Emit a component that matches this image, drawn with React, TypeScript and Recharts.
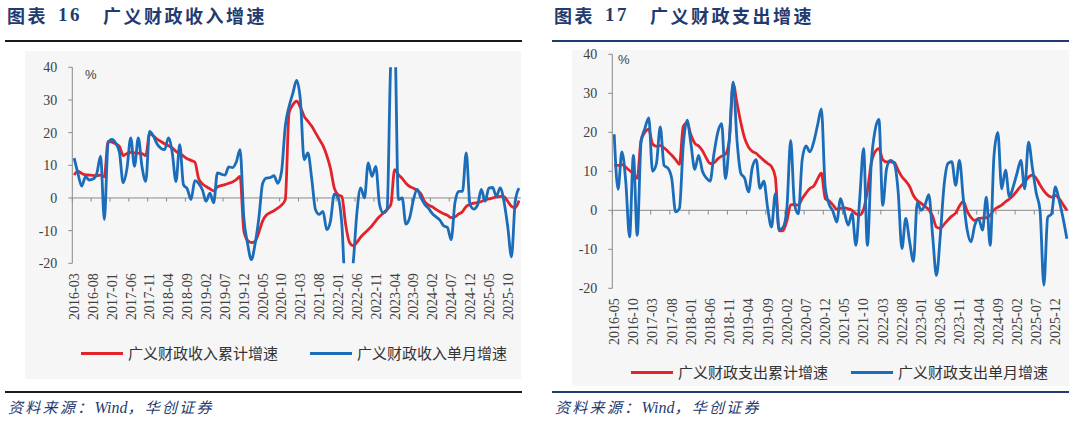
import React from 'react';
import { LineChart, Line, XAxis, YAxis, ReferenceLine } from 'recharts';

const SERIF = "'Liberation Serif', 'Times New Roman', 'Noto Sans CJK SC', serif";
const CJK = "'Noto Sans CJK SC', 'Liberation Sans', sans-serif";
const NAVY = '#1f3b70';
const RED = '#e2232a';
const BLUE = '#1b6cb9';
const AXIS = '#8a8a8a';
const LABEL = '#404040';

function monthRange(year: number, month: number, count: number): string[] {
  const out: string[] = [];
  for (let k = 0; k < count; k++) {
    const t = year * 12 + (month - 1) + k;
    out.push(`${Math.floor(t / 12)}-${String((t % 12) + 1).padStart(2, '0')}`);
  }
  return out;
}

// categories
const revenueMonths = monthRange(2016, 3, 119);
const spendingMonths = monthRange(2016, 5, 119);

// tick labels (every 5th month)
const revenueTickLabels = [
  '2016-03', '2016-08', '2017-01', '2017-06', '2017-11', '2018-04', '2018-09', '2019-02',
  '2019-07', '2019-12', '2020-05', '2020-10', '2021-03', '2021-08', '2022-01', '2022-06',
  '2022-11', '2023-04', '2023-09', '2024-02', '2024-07', '2024-12', '2025-05', '2025-10',
];
const spendingTickLabels = [
  '2016-05', '2016-10', '2017-03', '2017-08', '2018-01', '2018-06', '2018-11', '2019-04',
  '2019-09', '2020-02', '2020-07', '2020-12', '2021-05', '2021-10', '2022-03', '2022-08',
  '2023-01', '2023-06', '2023-11', '2024-04', '2024-09', '2025-02', '2025-07', '2025-12',
];
const yTicks = [-20, -10, 0, 10, 20, 30, 40];

// 广义财政收入累计增速 (%)
const revenueCumulative = [
  7, 8.2, 7.5, 7.1, 7, 6.9, 6.8, 7, 6.5, 17.3,
  17.1, 16.6, 15.8, 13, 13.6, 14, 13.8, 13.7, 13.6, 13,
  19.7, 19, 18, 17.3, 16.6, 16, 15.3, 14.3, 13.6, 12.8,
  12, 11.5, 11, 6, 4.3, 3.5, 2.8, 2.2, 3.4, 3.8,
  4.1, 4.5, 4.9, 5.6, 6.6, -10, -13, -13.7, -13.3, -10.5,
  -7, -5.2, -4.5, -3.9, -3.1, -2.2, -0.5, 26, 28.5, 29.6,
  27.8, 25, 23.5, 22, 20, 18, 16, 13, 9, 3,
  1, 0.5, -8, -13.5, -14.6, -13.6, -12, -10.8, -9.7, -8.5,
  -7, -5.7, -4.6, -3.5, -2, 8.7, 7.1, 6, 4.5, 3.5,
  3, 2.3, 1.2, -1.2, -2.2, -2.7, -3.5, -4.2, -4.8, -5.3,
  -6, -5.8, -4.9, -4.2, -2.6, -2, -1.6, -1.4, -1.1, -0.5,
  -0.3, 0, 0.3, 0.5, 0.4, -1, -2.6, -3, -0.8,
];

// 广义财政收入单月增速 (%)
const revenueMonthly = [
  12.2, 7.5, 3.6, 6.5, 5.5, 5.8, 7.5, 12.8, -6.6, 16.8,
  17.9, 16.8, 14, 4.6, 9, 18.4, 9.7, 18.4, 9.5, 5.1,
  20.4, 19, 16.5, 15.2, 14.8, 18.4, 14, 5, 16.3, 4,
  2.8, -0.5, 5.3, 4.5, 2.5, -1, 1.5, -1.5, 7.7, 7.3,
  7, 9.5, 9.3, 11, 14.8, -6, -14, -18.9, -14, -6,
  4.5, 6.1, 6.2, 6.8, 4.5, 8, 22, 28, 32, 36,
  30, 11.7, 13.8, 6, -3.5, -5, -4.1, -9.7, -7, 1.2,
  0, -8, -28, -27, -20, -4.5, 3.1, 0, 10.7, 6.6,
  9.7, -2, -4.6, -3.5, 42, 50, -0.5, 0, -8, -6,
  -0.5, 2.6, 0, -2, -3.2, -4.8, -5.8, -6.8, -8.5, -9,
  -12.8, -1.5, 2, 2, 13.8, -2, -3.4, -2.2, 2.6, -1,
  3, 3.2, 0.5, 3.1, -1, -8.7, -18, -1, 3,
];

// 广义财政支出累计增速 (%)
const spendingCumulative = [
  11.5, 11.5, 11.7, 11, 10.2, 9.4, 8.2, 18, 20, 20.8,
  17, 16.4, 16.6, 16, 15.1, 14.1, 13, 11.8, 21.5, 22.5,
  19.3, 17.2, 16.5, 15.3, 13.4, 12, 12.2, 13.2, 13.9, 14.4,
  18, 32.5, 27.5, 22.5, 18.5, 16.2, 15.1, 14.6, 13.7, 12.8,
  12, 11.2, 8.5, -5.3, -5.2, -2.7, 1.4, 1.5, 1.3, 3,
  4.4, 5.6, 6.2, 8, 9.5, 3, 2.4, 1.4, 0.3, 0.5,
  0.6, 0.4, 0, -0.9, -1.2, 0.2, 5, 12, 15, 15.8,
  13, 12.4, 12.4, 12.3, 10.3, 8.6, 7.5, 6.1, 3.8, 2.5,
  1.8, 1, 0.2, -1.5, -4.3, -4.6, -3.6, -2.5, -1.5, -0.7,
  1.1, 2.3, -0.2, -1.8, -2.6, -2.1, -2, -1.9, -1.3, 0.1,
  0.8, 1.3, 2.2, 2.9, 3.8, 5, 6.2, 7.2, 8.5, 9,
  8.2, 6.5, 5, 3.9, 3.4, 3.8, 3, 1.5, 0,
];

// 广义财政支出单月增速 (%)
const spendingMonthly = [
  19.5, 5.4, 15, 7.5, -6.8, 14.1, -6.4, 17.5, 21, 23.7,
  10, 12, 21.4, 11.5, 10.8, 8.1, -0.4, 0.5, 16.7, 23.1,
  17, 10.5, 14.1, 10, 8.3, 7.5, 14.5, 20, 22.2, 8.1,
  18, 32.9, 18, 9.5, 8.2, 4.7, 11, 13, 5.6, 7.5,
  0.5, -4.3, 4.3, -5, -4.4, 0.5, 17.9, 1.5, -0.9, 13,
  16.5, 15, 17.5, 21.8, 26, 6, 1.6, -0.2, -3, 3,
  -0.5, -3.8, -0.8, -9, 3, 15.8, -9, 12, 20.5, 23.3,
  1.3, 10.7, 12.8, 12, 5, -9.8, -2.1, -8, -13.1, 2,
  0, 1.3, 4, -6.5, -16.7, -6.5, 6.5, 12, 12.5, 6.4,
  12.8, 3, -5, -8.1, -3.8, -2.2, -5.1, 3.4, -9, 14,
  20, 5.5, 10.3, 3.5, 6, 9.5, 12.8, 5.5, 17.5, 11,
  4.5, 0, -19.2, -1.8, -0.9, 6, 2.5, -2, -7.3,
];

interface PanelProps {
  offsetX: number;
  months: string[];
  tickLabels: string[];
  cumulative: number[];
  monthly: number[];
  plot: { left: number; right: number; top: number; bottom: number };
}

function FiscalChart({ offsetX, months, tickLabels, cumulative, monthly, plot }: PanelProps) {
  const data = months.map((m, i) => ({ i, month: m, cumulative: cumulative[i], monthly: monthly[i] }));
  const tickIdx = tickLabels.map((t) => months.indexOf(t));
  const width = 540;
  const height = 421;
  const yAxisWidth = 40;
  const xAxisHeight = 60;

  const renderTick = (props: any) => {
    const { x, y, payload } = props;
    const ty = y + 2;
    return (
      <text
        x={x}
        y={ty}
        transform={`rotate(-90, ${x}, ${ty})`}
        textAnchor="end"
        dy="0.35em"
        fontSize={14}
        fill={LABEL}
        fontFamily={SERIF}
      >
        {months[payload.value]}
      </text>
    );
  };

  return (
    <div style={{ position: 'absolute', left: offsetX, top: 0 }}>
      <LineChart
        width={width}
        height={height}
        data={data}
        margin={{
          top: plot.top,
          left: plot.left - offsetX - yAxisWidth,
          right: offsetX + width - plot.right,
          bottom: height - plot.bottom - xAxisHeight,
        }}
      >
        <XAxis
          type="number"
          dataKey="i"
          domain={[-0.5, months.length - 0.5]}
          allowDataOverflow
          ticks={tickIdx}
          interval={0}
          axisLine={false}
          tickLine={false}
          height={xAxisHeight}
          tick={renderTick}
        />
        <YAxis
          type="number"
          domain={[-20, 40]}
          allowDataOverflow
          ticks={yTicks}
          interval={0}
          width={yAxisWidth}
          axisLine={{ stroke: AXIS }}
          tickLine={{ stroke: AXIS }}
          tickSize={4}
          tickMargin={11}
          tick={{ fontSize: 14, fill: LABEL, fontFamily: SERIF }}
        />
        <ReferenceLine y={0} stroke={AXIS} strokeWidth={1} />
        {tickIdx.map((k) => (
          <ReferenceLine
            key={k}
            segment={[{ x: k - 0.5, y: 0 }, { x: k - 0.5, y: -1.1 }]}
            stroke={AXIS}
          />
        ))}
        <Line
          dataKey="cumulative"
          type="monotone"
          stroke={RED}
          strokeWidth={2.8}
          dot={false}
          isAnimationActive={false}
        />
        <Line
          dataKey="monthly"
          type="monotone"
          stroke={BLUE}
          strokeWidth={2.8}
          dot={false}
          isAnimationActive={false}
        />
      </LineChart>
    </div>
  );
}

const abs = (s: React.CSSProperties): React.CSSProperties => ({ position: 'absolute', whiteSpace: 'nowrap', ...s });

function Title({ x, num, text }: { x: number; num: string; text: string }) {
  const base: React.CSSProperties = { top: 5, fontSize: 18, lineHeight: '20px', fontWeight: 700, color: NAVY, letterSpacing: 2.5 };
  return (
    <>
      <span style={abs({ ...base, left: x, fontFamily: CJK })}>图表</span>
      <span style={abs({ ...base, left: x + 51, fontFamily: SERIF, fontSize: 19 })}>{num}</span>
      <span style={abs({ ...base, left: x + 96, fontFamily: CJK })}>{text}</span>
    </>
  );
}

function Source({ x }: { x: number }) {
  return (
    <span
      style={abs({
        left: x,
        top: 398,
        fontSize: 15,
        lineHeight: '20px',
        fontStyle: 'italic',
        color: NAVY,
        fontFamily: SERIF,
      })}
    >
      <span style={{ letterSpacing: 2.3 }}>资料来源：</span>
      <span style={{ fontSize: 16 }}>Wind</span>
      <span style={{ letterSpacing: 2.3 }}>，华创证券</span>
    </span>
  );
}

function LegendRow({ y, items }: { y: number; items: { x: number; color: string; label: string }[] }) {
  return (
    <>
      {items.map((it) => (
        <React.Fragment key={it.label}>
          <div style={abs({ left: it.x, top: y - 1.5, width: 42, height: 3, background: it.color })} />
          <span style={abs({ left: it.x + 47, top: y - 10, fontSize: 15, lineHeight: '20px', color: '#333', fontFamily: CJK })}>
            {it.label}
          </span>
        </React.Fragment>
      ))}
    </>
  );
}

export default function App() {
  return (
    <div style={{ position: 'absolute', left: 0, top: 0, width: 1080, height: 421, background: '#fff', overflow: 'hidden' }}>
      {/* left panel */}
      <Title x={7} num="16" text="广义财政收入增速" />
      <div style={abs({ left: 5, top: 39.5, width: 517, height: 2, background: '#1a1a1a' })} />
      <div style={abs({ left: 25, top: 51, width: 496, height: 328, background: '#f6f6f6' })} />
      <div style={abs({ left: 5, top: 391, width: 517, height: 1.5, background: '#1a1a1a' })} />
      <Source x={8} />

      {/* right panel */}
      <Title x={554} num="17" text="广义财政支出增速" />
      <div style={abs({ left: 552, top: 39.5, width: 517, height: 2, background: NAVY })} />
      <div style={abs({ left: 572, top: 50, width: 497, height: 336, background: '#f6f6f6' })} />
      <div style={abs({ left: 552, top: 391, width: 517, height: 1.5, background: NAVY })} />
      <Source x={555} />

      <FiscalChart
        offsetX={0}
        months={revenueMonths}
        tickLabels={revenueTickLabels}
        cumulative={revenueCumulative}
        monthly={revenueMonthly}
        plot={{ left: 72.3, right: 520.9, top: 67.3, bottom: 263.3 }}
      />
      <FiscalChart
        offsetX={540}
        months={spendingMonths}
        tickLabels={spendingTickLabels}
        cumulative={spendingCumulative}
        monthly={spendingMonthly}
        plot={{ left: 612.3, right: 1068.8, top: 54.3, bottom: 288.3 }}
      />

      <span style={abs({ left: 85, top: 67, fontSize: 13, lineHeight: '16px', color: LABEL, fontFamily: "'Liberation Sans', sans-serif" })}>%</span>
      <span style={abs({ left: 618, top: 52, fontSize: 13, lineHeight: '16px', color: LABEL, fontFamily: "'Liberation Sans', sans-serif" })}>%</span>

      <LegendRow
        y={353}
        items={[
          { x: 81, color: RED, label: '广义财政收入累计增速' },
          { x: 310, color: BLUE, label: '广义财政收入单月增速' },
        ]}
      />
      <LegendRow
        y={372}
        items={[
          { x: 631, color: RED, label: '广义财政支出累计增速' },
          { x: 851, color: BLUE, label: '广义财政支出单月增速' },
        ]}
      />
    </div>
  );
}
